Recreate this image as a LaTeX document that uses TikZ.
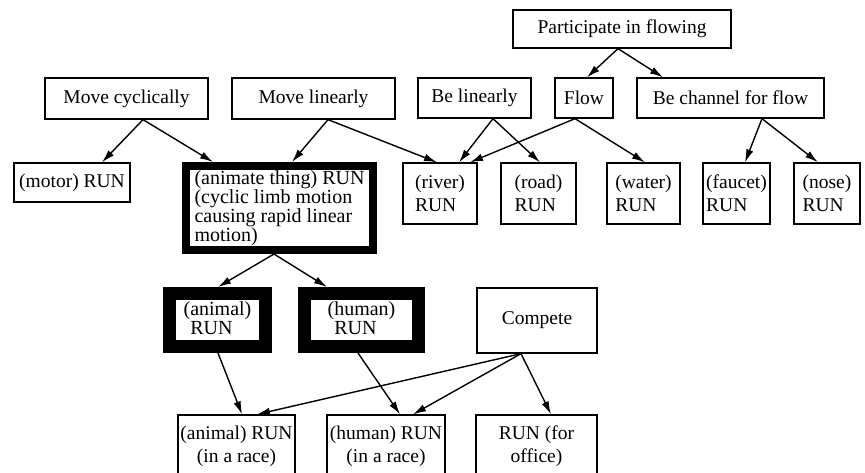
\documentclass[tikz,border=0pt]{standalone}
\usepackage{fontspec}
\setmainfont{Liberation Serif}
\usetikzlibrary{arrows.meta}
\begin{document}
\begin{tikzpicture}[x=1pt,y=-1pt,
  txt/.style={font=\fontsize{19.5}{22}\selectfont},
  box/.style={draw, line width=1.3pt, inner sep=0pt, txt, align=center},
  runbox/.style={box, align=left, font=\fontsize{19.5}{23}\selectfont},
  bigbox/.style={draw, line width=8pt, inner sep=0pt, align=left,
    font=\fontsize{20}{17.5}\selectfont},
  heavybox/.style={draw, line width=13pt, inner sep=0pt, align=left,
    font=\fontsize{20}{15}\selectfont},
  racebox/.style={box, font=\fontsize{19.5}{23}\selectfont},
  link/.style={line width=1.4pt, -{Latex[length=13pt,width=7.5pt]}}]

\useasboundingbox (0,0) rectangle (865,473);
\clip (0,0) rectangle (865,473);

% top level
\node[box, minimum width=218, minimum height=38] (part) at (622,29) {Participate in flowing};

% second level
\node[box, minimum width=163, minimum height=41] (mcyc) at (126.5,98.5) {Move cyclically};
\node[box, minimum width=163, minimum height=41] (mlin) at (313.5,98.5) {Move linearly};
\node[box, minimum width=113, minimum height=40] (blin) at (474.5,98) {Be linearly};
\node[box, minimum width=58, minimum height=40] (flow) at (584,98) {Flow};
\node[box, minimum width=187, minimum height=40] (chan) at (730.5,98) {Be channel for flow};

% senses of RUN
\node[box, minimum width=116, minimum height=39] (motor) at (72,182.5) {(motor) RUN};
\node[bigbox, minimum width=187, minimum height=84] (anim) at (279.5,208)
  {(animate thing) RUN\\(cyclic limb motion\\causing rapid linear\\motion)};
\node[runbox, minimum width=74, minimum height=61] (river) at (440,193.5) {(river)\\RUN};
\node[runbox, minimum width=75, minimum height=61] (road) at (538.5,193.5) {(road)\\RUN};
\node[runbox, minimum width=73, minimum height=61] (water) at (643.5,193.5) {(water)\\RUN};
\node[runbox, minimum width=67, minimum height=61] (faucet) at (736.5,193.5) {(faucet)\\RUN};
\node[runbox, minimum width=66, minimum height=61] (nose) at (827,193.5) {(nose)\\RUN};

% third level
\node[heavybox, minimum width=96, minimum height=53] (animal) at (217.5,320) {(animal)\\\phantom{(}RUN};
\node[heavybox, minimum width=114, minimum height=53] (human) at (361.5,320) {(human)\\\phantom{(}RUN};
\node[box, minimum width=120, minimum height=65] (compete) at (537,320.5) {Compete};

% bottom level
\node[racebox, minimum width=117, minimum height=62] (arace) at (236.5,446) {(animal) RUN\\(in a race)};
\node[racebox, minimum width=118, minimum height=62] (hrace) at (386,446) {(human) RUN\\(in a race)};
\node[racebox, minimum width=121, minimum height=62] (office) at (536.5,446) {RUN (for\\office)};

% connectors
\draw[link] ([xshift=16.5]mcyc.south) -- ([xshift=30]motor.north);
\draw[link] ([xshift=16.5]mcyc.south) -- ([xshift=-66.5]anim.north);
\draw[link] ([xshift=14.5]mlin.south) -- ([xshift=12.5]anim.north);
\draw[link] ([xshift=14.5]mlin.south) -- ([xshift=-3]river.north);
\draw[link] ([xshift=18.5]blin.south) -- ([xshift=19]river.north);
\draw[link] ([xshift=18.5]blin.south) -- ([xshift=1.5]road.north);
\draw[link] ([xshift=-9]flow.south) -- ([xshift=30]river.north);
\draw[link] ([xshift=-9]flow.south) -- ([xshift=1.5]water.north);
\draw[link] ([xshift=-4]part.south) -- ([xshift=3]flow.north);
\draw[link] ([xshift=-4]part.south) -- ([xshift=-67.5]chan.north);
\draw[link] ([xshift=31.5]chan.south) -- ([xshift=8.5]faucet.north);
\draw[link] ([xshift=31.5]chan.south) -- ([xshift=-9]nose.north);
\draw[link] ([xshift=-5.5]anim.south) -- ([xshift=0.5]animal.north);
\draw[link] ([xshift=-5.5]anim.south) -- ([xshift=-34.5]human.north);
\draw[link] ([xshift=0.5]animal.south) -- ([xshift=5.5]arace.north);
\draw[link] ([xshift=-3.5]human.south) -- ([xshift=14]hrace.north);
\draw[link] ([xshift=-16]compete.south) -- ([xshift=20.5]arace.north);
\draw[link] ([xshift=-16]compete.south) -- ([xshift=27]hrace.north);
\draw[link] ([xshift=-16]compete.south) -- ([xshift=14.5]office.north);
\end{tikzpicture}
\end{document}
